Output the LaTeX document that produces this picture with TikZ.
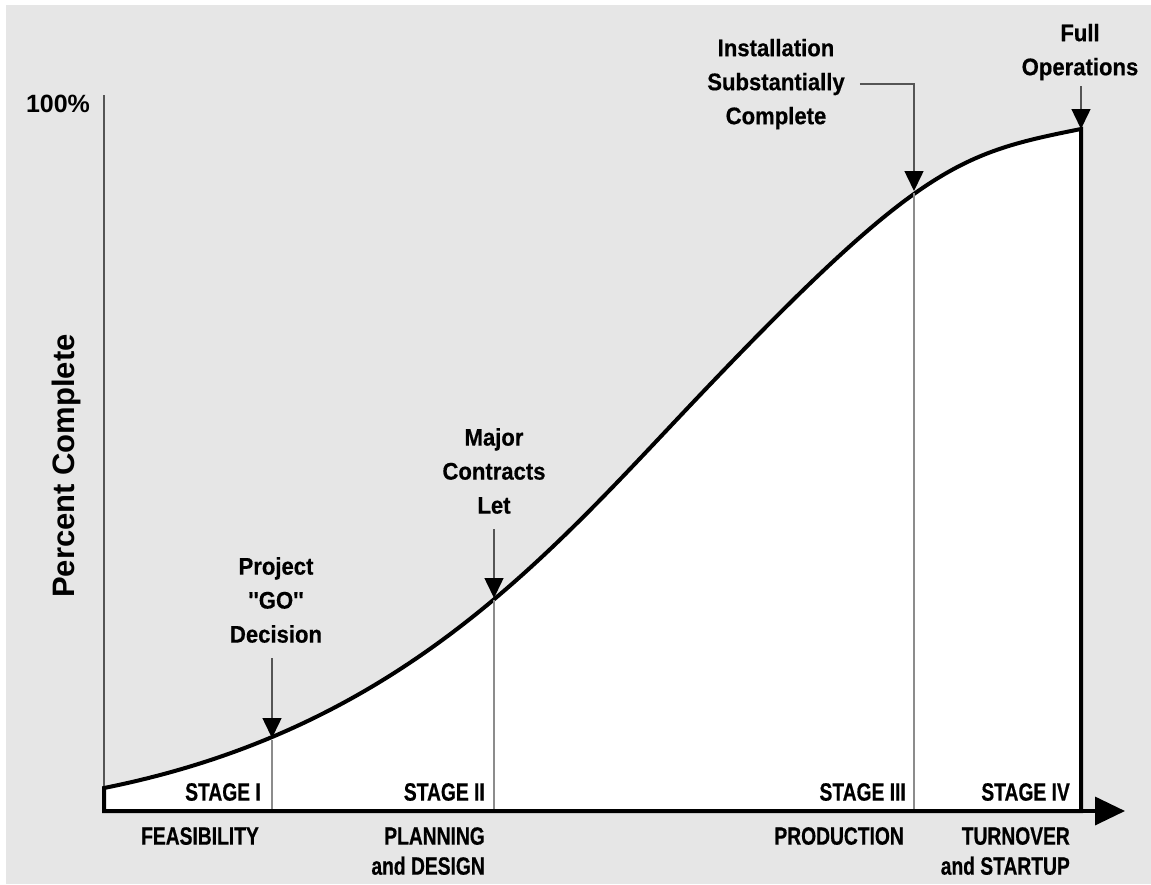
\documentclass[tikz,border=0pt]{standalone}
\usepackage{fontspec}
\setmainfont{Liberation Sans}
\newfontfamily\capfont[FakeStretch=0.77, FakeBold=0.5]{Liberation Sans}
\newfontfamily\mixfont[FakeStretch=0.92, FakeBold=0.5]{Liberation Sans}
\usetikzlibrary{arrows.meta,calc}
\definecolor{pcpaper}{HTML}{E6E6E6}
\definecolor{pcrule}{HTML}{8C8C8C}
\definecolor{pclead}{HTML}{555555}

\begin{document}
\begin{tikzpicture}[x=1pt, y=-1pt,
    milestone/.style={font=\mixfont\bfseries\fontsize{24}{34}\selectfont, align=center, inner sep=0pt},
    stagelbl/.style={font=\capfont\bfseries\fontsize{25}{30}\selectfont, anchor=east, inner sep=0pt},
    phaselbl/.style={font=\capfont\bfseries\fontsize{25}{30}\selectfont, align=right, anchor=north east, inner sep=0pt},
    leader/.style={pclead, line width=1.5pt, -{Triangle[width=19pt,length=20pt,black]}},
    divider/.style={pcrule, line width=1.5pt, shorten <=2pt, shorten >=2pt}]
                \useasboundingbox (0,0) rectangle (1151,884);
                \fill[white] (0,0) rectangle (1151,884);
                \fill[pcpaper] (6,5) rectangle (1151,884);

                % Points on the curve and on the base line
                \coordinate (c-go) at (272,738);
                \coordinate (c-major) at (494,598);
                \coordinate (c-install) at (914,191);
                \coordinate (c-full) at (1081,129);
                \coordinate (b-go) at (272,811);
                \coordinate (b-major) at (494,811);
                \coordinate (b-install) at (914,811);
                \coordinate (o) at (102,811);
                \coordinate (x-end) at (1125,811);
                \coordinate (y-top) at (104,95);

                % Percent axis
                \draw[pclead, line width=1.5pt] (y-top) -- (104,811);
                \node[font=\bfseries\fontsize{25}{30}\selectfont, inner sep=0pt] (hundred) at (58,104) {100\%};
                \node[font=\bfseries\fontsize{31}{36}\selectfont, rotate=90, anchor=base, inner sep=0pt] (pct) at (74,466) {Percent Complete};

                % Area under the S-curve
                \draw[line width=4pt, fill=white] (104,788) .. controls (404,728) and (550,552.5) .. (700,395)
                    .. controls (920,164) and (961,153) .. (1081,129) -- (1081,811) -- (104,811) -- cycle;

                % Stage boundaries
                \draw[divider] (c-go) -- (b-go);
                \draw[divider] (c-major) -- (b-major);
                \draw[divider] (c-install) -- (b-install);

                % Time axis
                \draw[line width=3.5pt, -{Triangle[width=28pt,length=30pt]}] (o) -- (x-end);

                % Milestones
                \node[milestone] (go) at (276,600) {Project\\''GO''\\Decision};
                \node[milestone] (major) at (494,471) {Major\\Contracts\\Let};
                \node[milestone] (install) at (776,84) {Installation\\Substantially\\Complete};
                \node[milestone] (fullops) at (1080,52) {Full\\Operations};

                \draw[leader] ($(go.south -| c-go)+(0,15)$) -- (c-go);
                \draw[leader] ($(major.south -| c-major)+(0,15)$) -- (c-major);
                \draw[leader] ([xshift=15pt]install.east) -- (install.east -| c-install) -- (c-install);
                \draw[leader] ([yshift=-6pt]fullops.south -| c-full) -- (c-full);

                % Stage names
                \node[stagelbl] (stage1) at (261,792) {STAGE I};
                \node[stagelbl] (stage2) at (485,792) {STAGE II};
                \node[stagelbl] (stage3) at (906,792) {STAGE III};
                \node[stagelbl] (stage4) at (1070,792) {STAGE IV};

                % Phase names
                \node[phaselbl] (feas) at (259,827) {FEASIBILITY};
                \node[phaselbl] (plan) at (485,827) {PLANNING\\and DESIGN};
                \node[phaselbl] (prod) at (904,827) {PRODUCTION};
                \node[phaselbl] (turn) at (1070,827) {TURNOVER\\and STARTUP};
            \end{tikzpicture}
\end{document}
